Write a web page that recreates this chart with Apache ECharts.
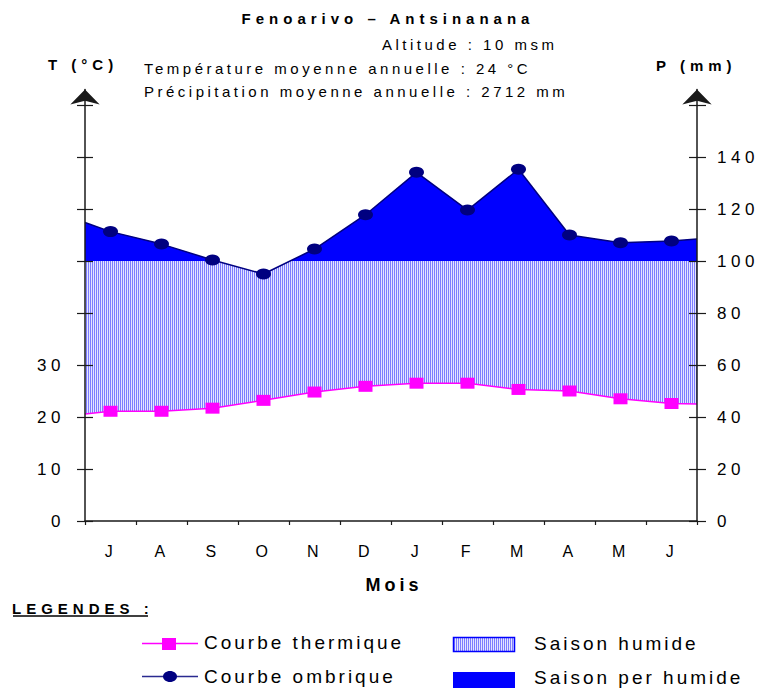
<!DOCTYPE html>
<html>
<head>
<meta charset="utf-8">
<script src="https://cdn.jsdelivr.net/npm/echarts@6/dist/echarts.min.js"></script>
<style>
  html, body { margin: 0; padding: 0; background: #fff; }
  #chart { width: 759px; height: 688px; }
  /* widely spaced lettering of the diagram texts */
  #chart text { letter-spacing: 3.5px; }
  #chart text[style*="17px"] { letter-spacing: 4.5px; }
  #chart text[style*="19px"] { letter-spacing: 3px; }
  #chart text[style*="bold"] { letter-spacing: 5px; }
  #chart text[style*="18px"][style*="bold"] { letter-spacing: 4px; }
</style>
</head>
<body>
<div id="chart"></div>
<script>
// Hydrological year, July to June
const months = ['J', 'A', 'S', 'O', 'N', 'D', 'J', 'F', 'M', 'A', 'M', 'J'];
// Mean monthly temperature (°C)
const temperature = [21.1, 21.1, 21.7, 23.2, 24.8, 25.9, 26.5, 26.5, 25.3, 25.0, 23.5, 22.6];
// Monthly precipitation as plotted on the P axis (mm)
const precipitation = [111.3, 106.5, 100.4, 95.0, 104.6, 117.8, 134.1, 119.6, 135.3, 110.0, 107.0, 107.7];
// Curve values at the start (1 July) and end (30 June) of the year
const temperatureBounds = [20.6, 22.5];
const precipitationBounds = [114.8, 108.5];
// Axis ticks and labels
const pTicks = [0, 20, 40, 60, 80, 100, 120, 140, 160];
const pLabels = [0, 20, 40, 60, 80, 100, 120, 140];
const tTicks = [0, 10, 20, 30, 40, 50, 60, 70, 80];
const tLabels = [0, 10, 20, 30];

const P_PER_T = 2;        // 10 °C on the left axis matches 20 mm on the right
const HUMID_LIMIT = 100;  // above this line the season is per-humid
const P_MAX = 166;
const T_MAX = P_MAX / P_PER_T;

const FONT = 'Liberation Sans, Arial, sans-serif';
const AXIS_COLOR = '#1a1a1a';

// place month values at mid-month, bounds at the year edges
function curve(values, bounds) {
  return [[0, bounds[0]]]
    .concat(values.map((v, i) => [i + 0.5, v]))
    .concat([[months.length, bounds[1]]]);
}
function withMarkers(points) {
  return points.map((p, i) =>
    (i === 0 || i === points.length - 1) ? { value: p, symbol: 'none' } : { value: p });
}

const tempCurve = curve(temperature, temperatureBounds);
const precCurve = curve(precipitation, precipitationBounds);
const tempOnP = tempCurve.map(([x, v]) => [x, v * P_PER_T]);

// vertical line hatching for the humid season
const hatch = document.createElement('canvas');
hatch.width = 2; hatch.height = 4;
(function () {
  const c = hatch.getContext('2d');
  c.fillStyle = '#e4e4ff'; c.fillRect(0, 0, 2, 4);
  c.fillStyle = '#7d7dff'; c.fillRect(0, 0, 1, 4);
})();
const hatchFill = { image: hatch, repeat: 'repeat' };

const PLOT = { left: 85, right: 62, bottom: 167, top: 89.4 };
const plotHeight = 688 - PLOT.bottom - PLOT.top;
const pxPerMm = plotHeight / P_MAX;
const humidTop = 688 - PLOT.bottom - HUMID_LIMIT * pxPerMm;

const axisLineStyle = { color: AXIS_COLOR, width: 1.5 };
const tickStyle = { color: AXIS_COLOR, width: 1.2 };

function txt(text, x, y, size, weight, align) {
  return {
    type: 'text', x: x, y: y, z: 20,
    style: {
      text: text, fontSize: size, fontWeight: weight || 'normal', fontFamily: FONT,
      fill: '#000', textAlign: align || 'left', textVerticalAlign: 'middle'
    }
  };
}

const chart = echarts.init(document.getElementById('chart'), null, { renderer: 'svg' });
chart.setOption({
  animation: false,
  backgroundColor: '#fff',
  textStyle: { fontFamily: FONT },
  grid: [
    { left: PLOT.left, right: PLOT.right, top: PLOT.top, bottom: PLOT.bottom },
    { left: PLOT.left, right: PLOT.right, top: PLOT.top, bottom: 688 - humidTop }
  ],
  xAxis: [
    {
      type: 'category', gridIndex: 0, data: months, boundaryGap: true, z: 10,
      axisLine: { onZero: false, lineStyle: axisLineStyle },
      axisTick: { length: 7, lineStyle: tickStyle },
      axisLabel: { fontSize: 16, color: '#000', margin: 22 }
    },
    {
      type: 'value', gridIndex: 0, min: 0, max: months.length, interval: 1, z: 10,
      axisLine: { show: false }, splitLine: { show: false }, axisLabel: { show: false },
      axisTick: { inside: true, length: 4, lineStyle: tickStyle }
    },
    { type: 'value', gridIndex: 1, min: 0, max: months.length, show: false }
  ],
  yAxis: [
    {
      type: 'value', gridIndex: 0, position: 'left', min: 0, max: T_MAX, z: 10,
      splitLine: { show: false },
      axisLine: { show: true, onZero: false, symbol: ['none', 'arrow'], symbolSize: [22, 15], lineStyle: axisLineStyle },
      axisTick: { show: true, length: 8, customValues: tTicks, lineStyle: tickStyle },
      axisLabel: { customValues: tLabels, fontSize: 17, color: '#000', margin: 20 }
    },
    {
      type: 'value', gridIndex: 0, position: 'left', min: 0, max: T_MAX, z: 10,
      splitLine: { show: false }, axisLine: { show: false }, axisLabel: { show: false },
      axisTick: { show: true, inside: true, length: 8, customValues: tTicks, lineStyle: tickStyle }
    },
    {
      type: 'value', gridIndex: 0, position: 'right', min: 0, max: P_MAX, z: 10,
      splitLine: { show: false },
      axisLine: { show: true, onZero: false, symbol: ['none', 'arrow'], symbolSize: [22, 15], lineStyle: axisLineStyle },
      axisTick: { show: true, length: 9, customValues: pTicks, lineStyle: tickStyle },
      axisLabel: { customValues: pLabels, fontSize: 17, color: '#000', margin: 20 }
    },
    {
      type: 'value', gridIndex: 0, position: 'right', min: 0, max: P_MAX, z: 10,
      splitLine: { show: false }, axisLine: { show: false }, axisLabel: { show: false },
      axisTick: { show: true, inside: true, length: 8, customValues: pTicks, lineStyle: tickStyle }
    },
    { type: 'value', gridIndex: 1, min: HUMID_LIMIT, max: P_MAX, show: false }
  ],
  series: [
    {
      // hatched band: everything under the rain curve ...
      name: 'Saison humide', type: 'line', xAxisIndex: 1, yAxisIndex: 2,
      data: precCurve, symbol: 'none', silent: true, lineStyle: { width: 0 },
      areaStyle: { color: hatchFill, opacity: 1, origin: 'start' }, z: 2
    },
    {
      // ... except what lies below the thermal curve
      name: 'below thermal curve', type: 'line', xAxisIndex: 1, yAxisIndex: 2,
      data: tempOnP, symbol: 'none', silent: true, lineStyle: { width: 0 },
      areaStyle: { color: '#ffffff', opacity: 1, origin: 'start' }, z: 3
    },
    {
      name: 'Saison per humide', type: 'line', xAxisIndex: 2, yAxisIndex: 4,
      data: precCurve, symbol: 'none', silent: true, lineStyle: { width: 0 },
      areaStyle: { color: '#0000ff', opacity: 1, origin: 'start' }, z: 3
    },
    {
      name: 'Courbe ombrique', type: 'line', xAxisIndex: 1, yAxisIndex: 2,
      data: withMarkers(precCurve), symbol: 'circle', symbolSize: [15, 11],
      itemStyle: { color: '#000080' }, lineStyle: { color: '#000080', width: 1.5 }, z: 4
    },
    {
      name: 'Courbe thermique', type: 'line', xAxisIndex: 1, yAxisIndex: 0,
      data: withMarkers(tempCurve), symbol: 'rect', symbolSize: [14, 11],
      itemStyle: { color: '#ff00ff' }, lineStyle: { color: '#ff00ff', width: 1.5 }, z: 5
    }
  ],
  graphic: [
    txt('Fenoarivo – Antsinanana', 388, 18.5, 15, 'bold', 'center'),
    txt('Altitude : 10 msm', 382, 44, 15),
    txt('Température moyenne annuelle : 24 °C', 144, 68.5, 15),
    txt('Précipitation moyenne annuelle : 2712 mm', 144, 91.5, 15),
    txt('T (°C)', 48, 64, 15, 'bold'),
    txt('P (mm)', 656, 65, 15, 'bold'),
    txt('Mois', 394, 585, 18, 'bold', 'center'),
    txt('LEGENDES :', 12, 608, 15, 'bold'),
    { type: 'line', z: 20, shape: { x1: 13, y1: 616, x2: 148, y2: 616 }, style: { stroke: '#000', lineWidth: 1.5 } },
    // legend: thermal curve
    { type: 'line', z: 20, shape: { x1: 142, y1: 643.5, x2: 198, y2: 643.5 }, style: { stroke: '#ff00ff', lineWidth: 1.5 } },
    { type: 'rect', z: 21, shape: { x: 162, y: 638, width: 14, height: 12 }, style: { fill: '#ff00ff' } },
    txt('Courbe thermique', 204, 642, 19),
    // legend: rain curve
    { type: 'line', z: 20, shape: { x1: 142, y1: 676.5, x2: 198, y2: 676.5 }, style: { stroke: '#2a2a90', lineWidth: 1.5 } },
    { type: 'ellipse', z: 21, shape: { cx: 170, cy: 676.5, rx: 7, ry: 5.5 }, style: { fill: '#000080' } },
    txt('Courbe ombrique', 204, 676, 19),
    // legend: seasons
    { type: 'rect', z: 20, shape: { x: 453.5, y: 637.5, width: 61, height: 14 }, style: { fill: hatchFill, stroke: '#0000ff', lineWidth: 1.5 } },
    txt('Saison humide', 534, 643, 19),
    { type: 'rect', z: 20, shape: { x: 453, y: 672, width: 62, height: 17 }, style: { fill: '#0000ff' } },
    txt('Saison per humide', 534, 677, 19)
  ]
});
</script>
</body>
</html>
